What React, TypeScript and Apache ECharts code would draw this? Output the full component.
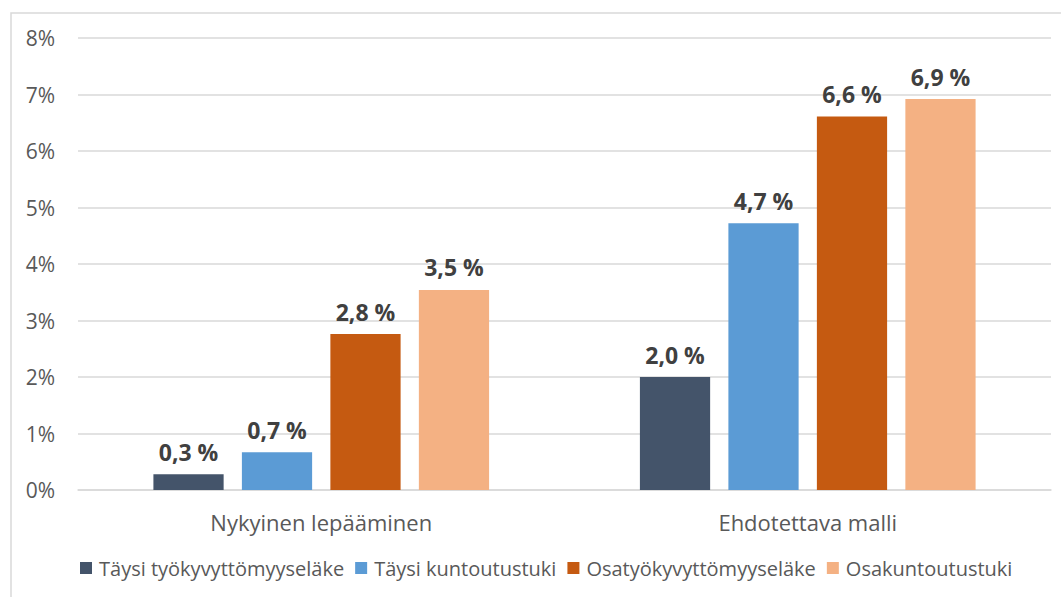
import React, { useEffect, useRef } from "react";
import * as echarts from "echarts";

const categories = ["Nykyinen lepääminen", "Ehdotettava malli"];
const seriesNames = [
  "Täysi työkyvyttömyyseläke",
  "Täysi kuntoutustuki",
  "Osatyökyvyttömyyseläke",
  "Osakuntoutustuki",
];
const taysiTyokyvyttomyyselake = [0.28, 2.0];
const taysiKuntoutustuki = [0.67, 4.72];
const osatyokyvyttomyyselake = [2.76, 6.61];
const osakuntoutustuki = [3.54, 6.92];
const seriesValues = [
  taysiTyokyvyttomyyselake,
  taysiKuntoutustuki,
  osatyokyvyttomyyselake,
  osakuntoutustuki,
];
const colors = ["#44546A", "#5B9BD5", "#C55A11", "#F4B183"];

const FONT = "'Open Sans', 'Noto Sans', sans-serif";

export default function App() {
  const ref = useRef<HTMLDivElement>(null);
  useEffect(() => {
    document.body.style.margin = "0";
    const chart = echarts.init(ref.current!, null, { renderer: "svg" });
    chart.setOption({
      animation: false,
      textStyle: { fontFamily: FONT },
      graphic: [
        {
          type: "rect",
          shape: { x: 11, y: 13, width: 1200, height: 800 },
          style: { fill: "none", stroke: "#d9d9d9", lineWidth: 1.5 },
          silent: true,
        },
      ],
      grid: { left: 78, right: 10, top: 38, bottom: 107 },
      legend: {
        bottom: 14,
        left: 75,
        itemWidth: 12,
        itemHeight: 12,
        itemGap: 11,
        icon: "rect",
        textStyle: { color: "#595959", fontSize: 20, fontFamily: FONT, padding: [0, 0, 0, 2] },
        data: seriesNames,
      },
      xAxis: {
        type: "category",
        data: categories,
        axisLine: { lineStyle: { color: "#d9d9d9", width: 1.5 } },
        axisTick: { show: false },
        axisLabel: { color: "#595959", fontSize: 22, margin: 21, fontFamily: FONT },
      },
      yAxis: {
        type: "value",
        min: 0,
        max: 8,
        interval: 1,
        axisLine: { show: false },
        axisTick: { show: false },
        splitLine: { lineStyle: { color: "#d9d9d9", width: 1.5 } },
        axisLabel: {
          color: "#595959",
          fontSize: 21,
          margin: 23,
          fontFamily: FONT,
          formatter: (v: number) => `${v}%`,
        },
      },
      series: seriesNames.map((name, i) => ({
        name,
        type: "bar",
        data: seriesValues[i],
        barGap: "26%",
        barCategoryGap: "31%",
        itemStyle: { color: colors[i] },
        label: {
          show: true,
          position: "top",
          distance: 11,
          color: "#404040",
          fontWeight: "bold",
          fontSize: 23,
          fontFamily: FONT,
          formatter: (p: any) => `${p.value.toFixed(1).replace(".", ",")} %`,
        },
      })),
    });
    return () => chart.dispose();
  }, []);
  return <div ref={ref} style={{ width: 1061, height: 597 }} />;
}
